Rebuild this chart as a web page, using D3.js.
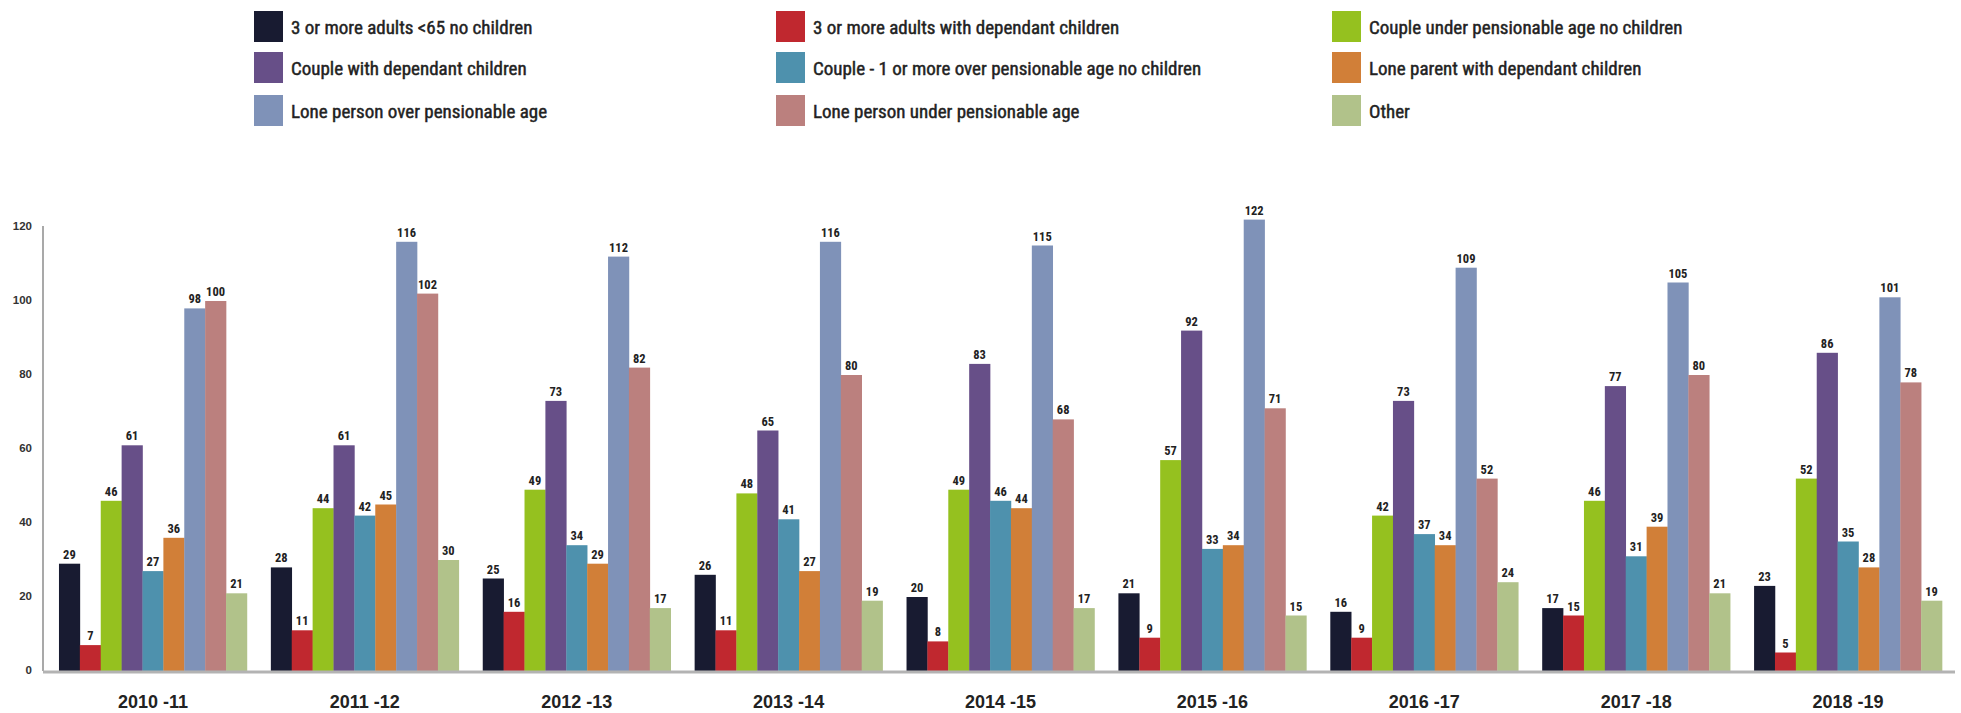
<!DOCTYPE html>
<html>
<head>
<meta charset="utf-8">
<script src="https://cdn.jsdelivr.net/npm/d3@7"></script>
<style>
  html, body { margin: 0; padding: 0; background: #ffffff; }
  svg { display: block; }
  text { font-family: "Liberation Sans Narrow", "Roboto Condensed", "Liberation Sans", sans-serif; fill: #222222; }
</style>
</head>
<body>
<svg id="chart" width="1961" height="713"></svg>
<script>
// Financial years on the x axis
const years = ["2010 -11", "2011 -12", "2012 -13", "2013 -14", "2014 -15", "2015 -16", "2016 -17", "2017 -18", "2018 -19"];

// Household types, in legend / bar order
const seriesNames = [
  "3 or more adults <65 no children",
  "3 or more adults with dependant children",
  "Couple under pensionable age no children",
  "Couple with dependant children",
  "Couple  - 1 or more over pensionable age no children",
  "Lone parent with dependant children",
  "Lone person over pensionable age",
  "Lone person under pensionable age",
  "Other"
];
const seriesColors = ["#181b31", "#c0282f", "#95c11f", "#674f88", "#4e91ad", "#d17f38", "#7f92b8", "#bb807e", "#b1c28a"];

// Counts per year for each household type
const adults3NoChildren      = [29, 28, 25, 26, 20, 21, 16, 17, 23];
const adults3WithChildren    = [7, 11, 16, 11, 8, 9, 9, 15, 5];
const coupleUnderPensionNoCh = [46, 44, 49, 48, 49, 57, 42, 46, 52];
const coupleWithChildren     = [61, 61, 73, 65, 83, 92, 73, 77, 86];
const coupleOverPensionNoCh  = [27, 42, 34, 41, 46, 33, 37, 31, 35];
const loneParent             = [36, 45, 29, 27, 44, 34, 34, 39, 28];
const lonePersonOverPension  = [98, 116, 112, 116, 115, 122, 109, 105, 101];
const lonePersonUnderPension = [100, 102, 82, 80, 68, 71, 52, 80, 78];
const otherHouseholds        = [21, 30, 17, 19, 17, 15, 24, 21, 19];

const yTicks = [0, 20, 40, 60, 80, 100, 120];

const seriesValues = [
  adults3NoChildren, adults3WithChildren, coupleUnderPensionNoCh,
  coupleWithChildren, coupleOverPensionNoCh, loneParent,
  lonePersonOverPension, lonePersonUnderPension, otherHouseholds
];

const svg = d3.select("#chart");

// Plot geometry
const axisX = 43, baseY = 671, topY = 227;

const x0 = d3.scaleBand().domain(years).range([47, 1954]).paddingInner(0.113).paddingOuter(0.0565);
const x1 = d3.scaleBand().domain(d3.range(seriesNames.length)).range([0, x0.bandwidth()]).padding(0);
const y = d3.scaleLinear().domain([0, 120]).range([baseY, topY]);

// Legend: three columns, three rows
const legendCols = [254, 776, 1332];
const legendRows = [11, 52, 95];
const legend = svg.append("g").attr("class", "legend");
seriesNames.forEach((name, i) => {
  const cx = legendCols[i % 3], cy = legendRows[Math.floor(i / 3)];
  legend.append("rect").attr("x", cx).attr("y", cy).attr("width", 29).attr("height", 31).attr("fill", seriesColors[i]);
  legend.append("text").attr("x", cx + 37).attr("y", cy + 16).attr("dy", "0.35em")
    .style("font-size", "19px").style("stroke", "#222222").style("stroke-width", "0.45px")
    .text(name);
});

// Y axis labels
const yAxis = svg.append("g").attr("transform", `translate(${axisX - 11},0)`)
  .call(d3.axisLeft(y).tickValues(yTicks).tickSize(0).tickPadding(0));
yAxis.select(".domain").remove();
yAxis.selectAll("text").attr("dy", "0.2em").style("font-size", "11.5px").style("font-weight", "bold")
  .style("fill", "#333333").style("font-family", "\"Liberation Sans Narrow\", \"Liberation Sans\", sans-serif");

// Bars
const groups = svg.append("g").selectAll("g").data(years).join("g")
  .attr("transform", d => `translate(${x0(d)},0)`);

groups.each(function(year, yi) {
  const g = d3.select(this);
  seriesValues.forEach((vals, si) => {
    const v = vals[yi];
    g.append("rect")
      .attr("x", x1(si)).attr("y", y(v))
      .attr("width", x1.bandwidth() + 0.3).attr("height", baseY - y(v))
      .attr("fill", seriesColors[si]);
    g.append("text")
      .attr("x", x1(si) + x1.bandwidth() / 2).attr("y", y(v) - 5)
      .attr("text-anchor", "middle")
      .style("font-size", "12.5px").style("font-weight", "bold")
      .text(v);
  });
});

// Axis lines
svg.append("line").attr("x1", axisX).attr("x2", axisX).attr("y1", 226).attr("y2", baseY)
  .attr("stroke", "#a9a9a9").attr("stroke-width", 2);
svg.append("line").attr("x1", axisX).attr("x2", 1955).attr("y1", baseY + 1).attr("y2", baseY + 1)
  .attr("stroke", "#b3b3b3").attr("stroke-width", 3);

// X axis labels
const xAxis = svg.append("g").attr("transform", `translate(0,${baseY})`)
  .call(d3.axisBottom(x0).tickSize(0).tickPadding(24));
xAxis.select(".domain").remove();
xAxis.selectAll("text").style("font-size", "18px").style("font-weight", "bold").style("fill", "#222222")
  .style("font-family", "\"Liberation Sans Narrow\", \"Liberation Sans\", sans-serif");
</script>
</body>
</html>
